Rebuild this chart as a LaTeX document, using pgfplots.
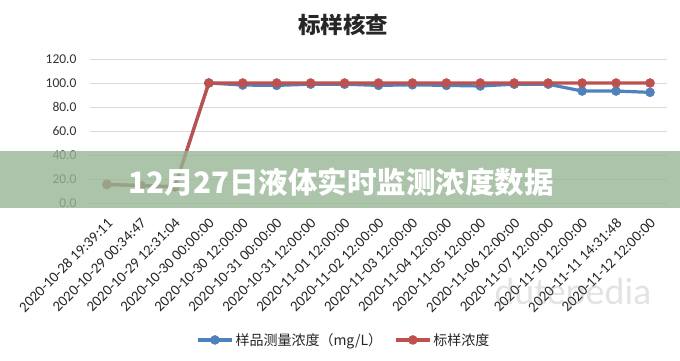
\documentclass[border=0pt]{standalone}
\usepackage{fontspec}
\setmainfont{Carlito}
\newfontfamily\cjk{Noto Sans CJK SC}
\usepackage{pgfplots}
\pgfplotsset{compat=1.18}
\definecolor{sblue}{HTML}{4F81BD}
\definecolor{sred}{HTML}{C0504D}
\definecolor{gridc}{HTML}{D9D9D9}
\definecolor{band}{RGB}{150,181,149}
\begin{document}
\begin{tikzpicture}[x=1pt,y=1pt]
\path[use as bounding box] (0,0) rectangle (680,360);
\begin{axis}[
  at={(90pt,157pt)}, anchor=south west,
  scale only axis, width=577pt, height=144pt,
  xmin=-0.5, xmax=16.5, ymin=0, ymax=120,
  ytick={0,20,...,120},
  xtick={0,...,16},
  xticklabels={2020-10-28 19:39:11,2020-10-29 00:34:47,2020-10-29 12:31:04,2020-10-30 00:00:00,2020-10-30 12:00:00,2020-10-31 00:00:00,2020-10-31 12:00:00,2020-11-01 12:00:00,2020-11-02 12:00:00,2020-11-03 12:00:00,2020-11-04 12:00:00,2020-11-05 12:00:00,2020-11-06 12:00:00,2020-11-07 12:00:00,2020-11-10 12:00:00,2020-11-11 14:31:48,2020-11-12 12:00:00},
  xticklabel style={rotate=45, anchor=north east, font=\fontsize{14.8}{16}\selectfont, text=black!85, inner sep=0pt, xshift=-10.5pt, yshift=-9.5pt},
  yticklabel style={font=\fontsize{13.5}{15}\selectfont, text=black!80, xshift=-10pt},
  /pgf/number format/assume math mode=true,
  yticklabel={\pgfmathprintnumber[fixed,fixed zerofill,precision=1]{\tick}},
  axis line style={draw=none},
  major tick length=0pt,
  ymajorgrids, grid style={gridc, line width=1pt},
  legend style={at={(0.44,-0.951)}, anchor=center, draw=none, legend columns=2,
    font=\cjk\fontsize{14}{16}\selectfont, text=black!85,
    /tikz/every even column/.append style={column sep=10pt}},
  legend image code/.code={\draw[mark repeat=2,mark phase=2,#1] plot coordinates {(0pt,0pt) (17pt,0pt) (34pt,0pt)};},
  clip=false,
]
\addplot[sblue, line width=3.2pt, mark=*, mark size=4.5pt, mark options={fill=sblue, draw=sblue, line width=0.5pt}] coordinates {
(0,15.5) (1,14.5) (2,13.5) (3,100) (4,98.3) (5,98) (6,99) (7,99) (8,98) (9,98.5) (10,98) (11,97.5) (12,99) (13,99) (14,93.3) (15,93.3) (16,92.2)};
\addlegendentry{样品测量浓度（mg/L）}
\addplot[sred, line width=3.2pt, mark=*, mark size=4.5pt, mark options={fill=sred, draw=sred, line width=0.5pt}] coordinates {
(0,15.5) (1,14.5) (2,13.5) (3,100) (4,100) (5,100) (6,100) (7,100) (8,100) (9,100) (10,100) (11,100) (12,100) (13,100) (14,100) (15,100) (16,100)};
\addlegendentry{标样浓度}
\end{axis}
\node[font=\cjk\bfseries\fontsize{22.5}{25}\selectfont, text=black!85] at (343,335) {标样核查};
\fill[band, opacity=0.8] (0,152) rectangle (680,209);
\node[font=\cjk\bfseries\fontsize{29.5}{32}\selectfont, text=white] at (341,178) {12月27日液体实时监测浓度数据};
\node[font=\fontsize{38}{40}\selectfont, text=gray, opacity=0.22] at (573,66) {dutepedia};
\end{tikzpicture}
\end{document}
